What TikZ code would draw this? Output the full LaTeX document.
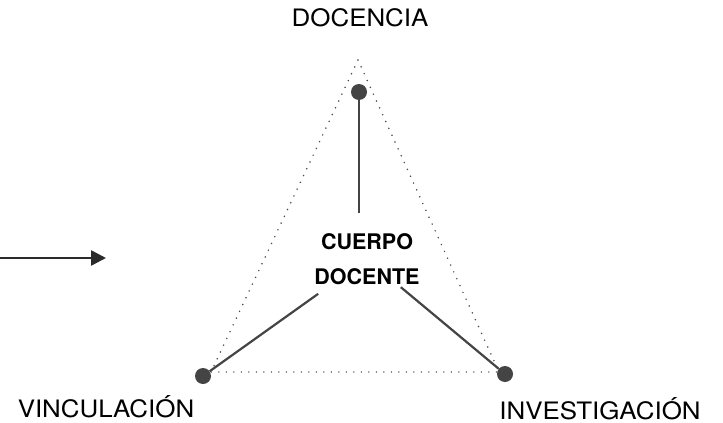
\documentclass[tikz,border=0pt]{standalone}
\usepackage{fontspec}
\setmainfont{TeX Gyre Heros}
\newfontfamily\rolefont[FakeStretch=1.08]{TeX Gyre Heros}
\usepackage{tikz}
\usetikzlibrary{arrows.meta,positioning,calc}
\definecolor{inkgray}{HTML}{444444}
\definecolor{dotgray}{HTML}{4A4A4A}
\definecolor{arrowink}{HTML}{2A2A2A}
\tikzset{
    pole/.style={circle, fill=inkgray, minimum size=16pt, inner sep=0pt},
    role/.style={font=\rolefont\fontsize{24}{28}\selectfont, text=black, inner sep=0pt, anchor=base},
    core/.style={font=\bfseries\fontsize{21.5}{35}\selectfont, align=center, text=black, inner sep=0pt},
    spoke/.style={draw=inkgray, line width=2.2pt},
    frame/.style={draw=dotgray, line width=1.7pt, line cap=round, dash pattern=on 0pt off 7.5pt},
    flow/.style={draw=arrowink, line width=2.6pt, -{Triangle[length=15pt, width=15pt]}}
}

\begin{document}
\begin{tikzpicture}[x=1pt, y=-1pt]
    \useasboundingbox (0,0) rectangle (723,423);

    % dotted triangle
    \coordinate (apex) at (358,60);
    \coordinate (baseL) at (211,372);
    \coordinate (baseR) at (499,372);
    \draw [frame] (apex) -- (baseR) -- (baseL) -- cycle;

    % corners and centre
    \node [pole] (doc) at (359,92) {};
    \node [pole] (vin) at (203,376) {};
    \node [pole] (inv) at (505,374) {};
    \node [core] (body) at (367,259) {CUERPO\\DOCENTE};

    \path [spoke] (doc) -- (doc |- 0,213);
    \path [spoke, shorten >=60pt] (vin) -- (body.center);
    \path [spoke, shorten >=44pt] (inv) -- (body.center);

    % labels
    \node [role] (ldoc) at (360,26) {DOCENCIA};
    \node [role] (lvin) at (106,417) {VINCULACIÓN};
    \node [role] (linv) at (600,419) {INVESTIGACIÓN};

    % incoming arrow
    \coordinate (from) at (0,258);
    \coordinate (to) at (106,258);
    \path [flow] (from) -- (to);
\end{tikzpicture}
\end{document}
